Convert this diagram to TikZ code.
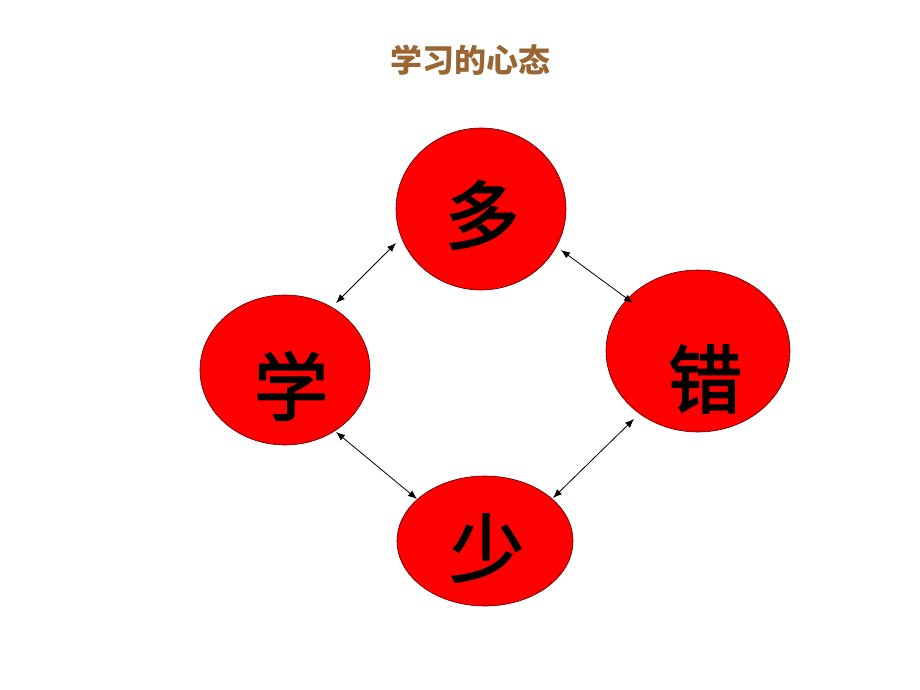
\documentclass[tikz,border=0pt]{standalone}
\usepackage{fontspec}
\newfontfamily\cjk{Noto Sans CJK SC}
\newfontfamily\cjkfb[FakeBold=2.5]{Noto Sans CJK SC}
\usetikzlibrary{shapes.geometric,arrows.meta}
\definecolor{titlebrown}{RGB}{153,102,51}
\definecolor{ovalred}{RGB}{255,0,0}
\tikzset{
  oval/.style={ellipse, draw=black!70!red, line width=0.6pt, fill=ovalred, inner sep=0pt},
  bigchar/.style={font=\cjkfb\fontsize{74}{74}\selectfont, text=black, inner sep=0pt},
  link/.style={line width=0.8pt, {Latex[length=9pt,width=7pt]}-{Latex[length=9pt,width=7pt]}}
}
\begin{document}
\begin{tikzpicture}[x=1pt,y=-1pt]
\useasboundingbox (0,0) rectangle (920,690);
\node[font=\cjk\bfseries\fontsize{32}{32}\selectfont, text=titlebrown] (title) at (470,60) {学习的心态};
\node[oval, minimum width=170pt, minimum height=162pt] (duo) at (481,209) {};
\node[oval, minimum width=170pt, minimum height=150pt] (xue) at (285,370) {};
\node[oval, minimum width=184pt, minimum height=162pt] (cuo) at (698,351) {};
\node[oval, minimum width=176pt, minimum height=130pt] (shao) at (485,541) {};
\node[bigchar] (tduo) at (482,215) {多};
\node[bigchar] (txue) at (291,386) {学};
\node[bigchar] (tcuo) at (705,379) {错};
\node[bigchar] (tshao) at (487,548) {少};
\coordinate (a1) at (396,243); \coordinate (a2) at (336,303);
\coordinate (b1) at (561,250); \coordinate (b2) at (633,303);
\coordinate (c1) at (336,432); \coordinate (c2) at (417,499);
\coordinate (d1) at (634,419); \coordinate (d2) at (553,498);
\draw[link] (a1) -- (a2);
\draw[link] (b1) -- (b2);
\draw[link] (c1) -- (c2);
\draw[link] (d1) -- (d2);
\end{tikzpicture}
\end{document}
